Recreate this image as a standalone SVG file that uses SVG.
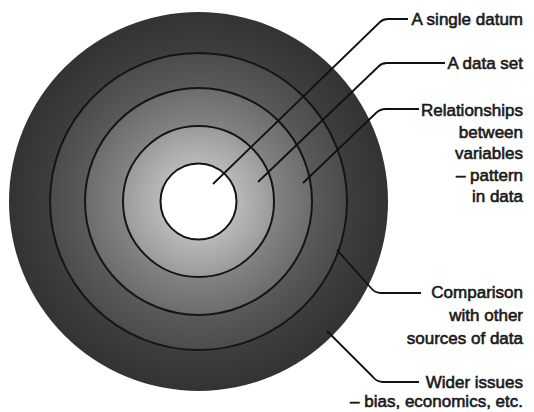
<svg xmlns="http://www.w3.org/2000/svg" width="534" height="412" viewBox="0 0 534 412">
  <style>
    .ring { stroke: #151515; stroke-width: 2; fill: none; }
    .lead { stroke: #111; stroke-width: 1.8; fill: none; stroke-linejoin: round; }
    .lbl { font-family: "Liberation Sans", Arial, sans-serif; font-size: 17px; fill: #1a1a1a; stroke: #1a1a1a; stroke-width: 0.6; text-anchor: end; }
  </style>
  <defs>
    <radialGradient id="shade" cx="198.5" cy="201.5" r="189.5" gradientUnits="userSpaceOnUse">
      <stop offset="0.2" stop-color="#b9b9b9"/>
      <stop offset="0.398" stop-color="#9a9a9a"/>
      <stop offset="0.398" stop-color="#838383"/>
      <stop offset="0.599" stop-color="#6c6c6c"/>
      <stop offset="0.599" stop-color="#5a5a5a"/>
      <stop offset="0.784" stop-color="#4c4c4c"/>
      <stop offset="0.784" stop-color="#3e3e3e"/>
      <stop offset="1" stop-color="#333333"/>
    </radialGradient>
  </defs>
  <rect width="534" height="412" fill="#ffffff"/>

  <g id="ring-wider-issues">
    <circle cx="198.5" cy="201.5" r="189.5" fill="url(#shade)"/>
  </g>
  <g id="ring-comparison">
    <circle class="ring" cx="198.5" cy="201.5" r="148.5"/>
  </g>
  <g id="ring-relationships">
    <circle class="ring" cx="198.5" cy="201.5" r="113.5"/>
  </g>
  <g id="ring-data-set">
    <circle class="ring" cx="198.5" cy="201.5" r="75.5"/>
  </g>
  <g id="ring-single-datum">
    <circle cx="198.5" cy="201.5" r="38" fill="#ffffff" stroke="#151515" stroke-width="2"/>
  </g>

  <g id="connectors">
    <path class="lead" d="M213,184 L380,22 Q383,19 388,19 L408,19"/>
    <path class="lead" d="M258,182 L379,66 Q382,63 387,63 L445,63"/>
    <path class="lead" d="M303,183 L376,113 Q380,109 386,109 L419,109"/>
    <path class="lead" d="M337,250 L371,288 Q375,293 381,293 L421,293"/>
    <path class="lead" d="M327,331 L373,377 Q377,382 383,382 L419,382"/>
  </g>

  <g id="label-single-datum">
    <text class="lbl" x="523" y="25">A single datum</text>
  </g>
  <g id="label-data-set">
    <text class="lbl" x="523" y="69">A data set</text>
  </g>
  <g id="label-relationships">
    <text class="lbl" x="523" y="116">Relationships</text>
    <text class="lbl" x="523" y="137.5">between</text>
    <text class="lbl" x="523" y="159">variables</text>
    <text class="lbl" x="523" y="180.5">– pattern</text>
    <text class="lbl" x="523" y="202">in data</text>
  </g>
  <g id="label-comparison">
    <text class="lbl" x="523" y="298">Comparison</text>
    <text class="lbl" x="523" y="321">with other</text>
    <text class="lbl" x="523" y="344">sources of data</text>
  </g>
  <g id="label-wider-issues">
    <text class="lbl" x="523" y="388">Wider issues</text>
    <text class="lbl" x="523" y="407">– bias, economics, etc.</text>
  </g>
</svg>
